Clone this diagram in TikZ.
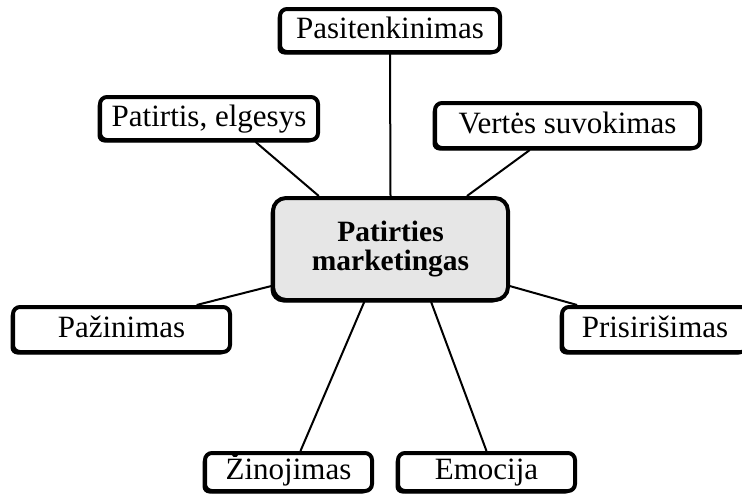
\documentclass[tikz,border=0pt]{standalone}
\usepackage{fontspec}
\setmainfont{Liberation Serif}
\usetikzlibrary{calc,shadows}
\definecolor{boxgray}{HTML}{E6E6E6}
\begin{document}
\begin{tikzpicture}[x=1pt,y=-1pt,
  conceptbox/.style={draw=black, line width=4pt, rounded corners=7pt,
    fill=white, inner sep=0pt, font=\fontsize{31}{32}\selectfont,
    text height=21pt, text depth=6pt,
    drop shadow={shadow xshift=-2.5pt, shadow yshift=-2.5pt, opacity=1, fill=black}},
  corebox/.style={conceptbox, fill=boxgray, rounded corners=13pt, align=center,
    text height=, text depth=,
    font=\fontsize{29.5}{29.5}\selectfont\bfseries},
  link/.style={draw=black, line width=2pt}]
  \useasboundingbox (0,0) rectangle (742,493);
  \clip (0,0) rectangle (742,493);

  % central concept
  \node[corebox, minimum width=235pt, minimum height=102pt] (cen) at (390.5,249)
    {Patirties\\marketingas};

  % surrounding concepts
  \node[conceptbox, minimum width=220pt, minimum height=43pt] (pas) at (390,30.5) {Pasitenkinimas};
  \node[conceptbox, minimum width=218pt, minimum height=43pt] (pat) at (209,118.5) {Patirtis, elgesys};
  \node[conceptbox, minimum width=265pt, minimum height=45pt] (ver) at (567.5,125.5) {Vertės suvokimas};
  \node[conceptbox, minimum width=217pt, minimum height=45pt] (paz) at (121.5,329.5) {Pažinimas};
  \node[conceptbox, minimum width=186pt, minimum height=45pt] (pri) at (655,329.5) {Prisirišimas};
  \node[conceptbox, minimum width=167pt, minimum height=38pt] (zin) at (288.5,472) {Žinojimas};
  \node[conceptbox, minimum width=177pt, minimum height=38pt] (emo) at (486.5,472) {Emocija};

  % connectors
  \draw[link] ($(pas.south west)!0.5!(pas.south east)$) -- ($(cen.north west)!0.5!(cen.north east)$);
  \draw[link] ($(pat.south west)!0.71!(pat.south east)$) -- ($(cen.north west)!0.2!(cen.north east)$);
  \draw[link] ($(ver.south west)!0.36!(ver.south east)$) -- ($(cen.north west)!0.82!(cen.north east)$);
  \draw[link] ($(paz.north west)!0.84!(paz.north east)$) -- ($(cen.north west)!0.85!(cen.south west)$);
  \draw[link] ($(pri.north west)!0.09!(pri.north east)$) -- ($(cen.north east)!0.85!(cen.south east)$);
  \draw[link] ($(zin.north west)!0.57!(zin.north east)$) -- ($(cen.south west)!0.39!(cen.south east)$);
  \draw[link] ($(emo.north west)!0.5!(emo.north east)$) -- ($(cen.south west)!0.67!(cen.south east)$);
\end{tikzpicture}
\end{document}
